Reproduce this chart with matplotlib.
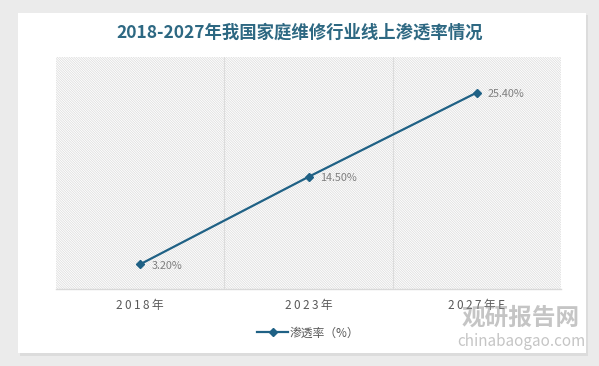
import matplotlib
matplotlib.use('Agg')
import matplotlib.pyplot as plt
from matplotlib.patches import Rectangle

plt.rcParams['font.family'] = ['Noto Sans CJK SC', 'DejaVu Sans']
plt.rcParams['hatch.linewidth'] = 0.5

years = ['2018年', '2023年', '2027年E']
rates = [3.2, 14.5, 25.4]
rate_labels = ['3.20%', '14.50%', '25.40%']
series_name = '渗透率（%）'
title = '2018-2027年我国家庭维修行业线上渗透率情况'

line_color = '#1f6185'
text_gray = '#595959'

fig = plt.figure(figsize=(5.99, 3.66), dpi=100, facecolor='#ebebeb')

# white card with a soft shadow
fig.patches.append(Rectangle((20 / 599, (366 - 356) / 366), 568 / 599, 341 / 366,
                             transform=fig.transFigure, facecolor='#dcdcdc',
                             edgecolor='none', zorder=-2))
fig.patches.append(Rectangle((18 / 599, (366 - 353) / 366), 568 / 599, 340 / 366,
                             transform=fig.transFigure, facecolor='white',
                             edgecolor='none', zorder=-1))

ax = fig.add_axes([56 / 599, (366 - 289) / 366, 505 / 599, 232 / 366])
ax.set_zorder(2)
ax.set_facecolor('none')
ax.add_patch(Rectangle((0, 0), 1, 1, transform=ax.transAxes, facecolor='white',
                       edgecolor='#dadada', hatch='\\' * 14, lw=0, zorder=0))

x = list(range(len(years)))
ax.plot(x, rates, color=line_color, lw=1.6, marker='D', markersize=4.5,
        label=series_name, zorder=3)
for xi, yi, lab in zip(x, rates, rate_labels):
    ax.annotate(lab, (xi, yi), xytext=(8, -1), textcoords='offset points',
                ha='left', va='center', fontsize=7.8, color='#7f7f7f')

ax.set_xlim(-0.5, 2.5)
ax.set_ylim(0, 30)
for b in [0.5, 1.5]:
    ax.axvline(b, color='#dcdcdc', lw=0.8, zorder=1)

for s in ['top', 'left', 'right']:
    ax.spines[s].set_visible(False)
ax.spines['bottom'].set_color('#d9d9d9')
ax.spines['bottom'].set_linewidth(1)
ax.set_yticks([])
ax.set_xticks(x)
# letter-spaced category labels, as in the source
ax.set_xticklabels(['\u2009'.join(y) for y in years], fontsize=8.5, color=text_gray)
ax.tick_params(axis='x', length=0, pad=7)

fig.text(0.5, (366 - 33) / 366, title, ha='center', va='center', fontsize=12.5,
         fontweight='bold', color='#2d6882')

leg = ax.legend(loc='center', bbox_to_anchor=(0.5, (289 - 333) / 232),
                frameon=False, fontsize=8.5, handlelength=2.6, handletextpad=0.15)
for t in leg.get_texts():
    t.set_color(text_gray)

# watermark
fig.text(0.87, (366 - 318) / 366, '观研报告网', ha='center', va='center',
         fontsize=17, fontweight='bold', color='#8c8c8c', alpha=0.5, zorder=5)
fig.text(0.87, (366 - 342) / 366, 'chinabaogao.com', ha='center', va='center',
         fontsize=11, color='#8c8c8c', alpha=0.5, zorder=5)

fig.savefig('out.png', dpi=100, facecolor=fig.get_facecolor())
